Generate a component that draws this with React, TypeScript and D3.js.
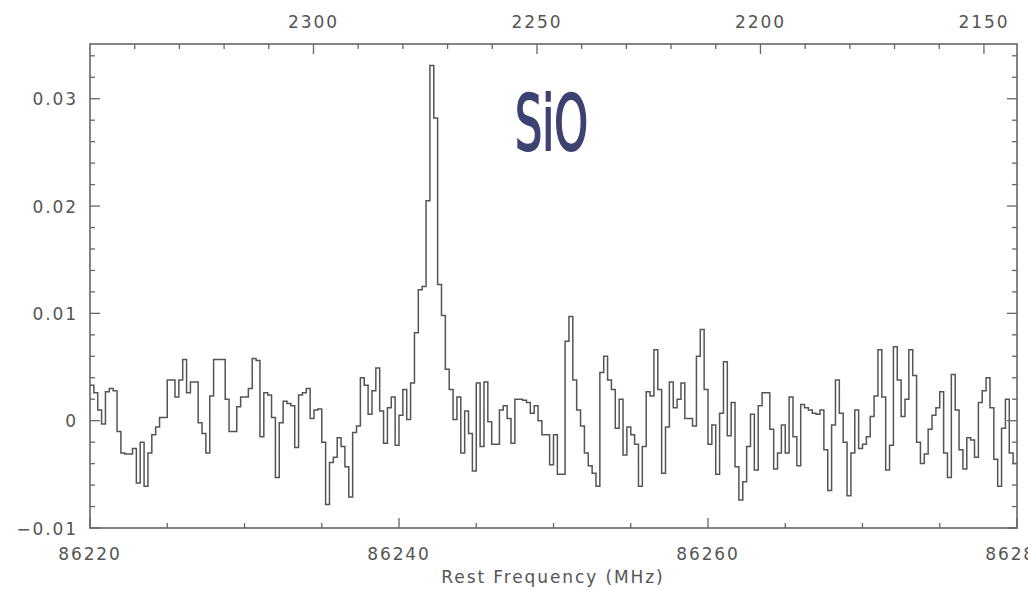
import React from 'react';
import * as d3 from 'd3';

const freqStart = 86220; // MHz
const channelWidth = 0.25; // MHz
// flux density in units of 0.001
const fluxMilli = [
  3.3, 2.6, 1.0, -0.3, 2.7, 3.0, 2.8, -1.0, -3.0, -3.1,
  -3.1, -2.6, -5.8, -2.0, -6.1, -3.0, -1.3, -0.6, 0.3, 0.3,
  3.8, 3.8, 2.2, 3.8, 5.7, 2.6, 3.6, 3.6, -0.2, -1.2,
  -3.0, 2.3, 5.7, 5.7, 5.7, 2.0, -1.0, -1.0, 1.3, 2.2,
  2.2, 3.0, 5.8, 5.6, -1.5, 2.6, 2.4, 0.3, -5.3, -0.2,
  1.8, 1.6, 1.4, -2.5, 2.4, 2.6, 3.0, 0.2, 1.0, 1.1,
  -2.0, -7.8, -3.9, -3.4, -1.6, -2.4, -4.3, -7.1, -1.1, -0.5,
  4.0, 3.3, 0.6, 2.8, 4.9, 0.9, -2.1, 1.2, 2.2, -2.3,
  0.5, 2.9, 0.1, 3.5, 8.2, 12.2, 12.5, 20.5, 33.1, 28.2,
  12.7, 9.8, 4.8, 2.9, 0.1, 2.2, -3.0, 0.9, -1.2, -4.7,
  3.5, -2.4, 3.6, -0.1, -2.2, -2.2, 1.0, 1.4, 0.2, -2.1,
  2.0, 2.0, 1.9, 1.7, 0.7, 1.4, 0.0, -1.3, -1.3, -4.1,
  -1.3, -5.0, -5.0, 7.4, 9.7, 3.8, 1.0, -0.5, -3.0, -4.2,
  -4.9, -6.1, 4.5, 6.0, 3.8, 2.9, -0.7, 2.0, -3.2, -0.6,
  -1.3, -2.2, -6.1, -2.4, 2.7, 2.3, 6.6, 2.9, -4.9, -0.6,
  3.6, 1.2, 2.0, 3.5, 0.2, 0.2, -0.5, 6.0, 8.5, 2.9,
  -2.2, -0.4, -5.0, 0.7, 5.5, -1.4, 1.7, -4.3, -7.4, -5.7,
  -2.4, 0.6, -4.6, 1.4, 2.6, 2.6, -0.8, -4.5, -3.0, -0.4,
  -3.0, 2.2, -1.5, -4.2, 1.5, 1.2, 1.0, 0.7, 0.6, 1.0,
  -2.7, -6.5, -0.4, 3.8, 0.7, -2.0, -7.0, -3.0, 1.0, -2.6,
  -2.2, -1.5, 0.4, 2.3, 6.6, 2.2, -4.6, -2.3, 6.9, 3.8,
  0.4, 2.0, 6.6, 4.2, -2.0, -4.0, -3.1, -0.8, 0.5, 1.2,
  2.7, -3.0, -5.3, 4.3, 1.0, -2.7, -4.5, -1.6, -1.8, -3.4,
  1.7, 2.8, 4.0, 1.2, -3.6, -6.1, -0.7, 2.0, -3.0, -4.0,
];

const freqMajorTicks = [86220, 86240, 86260, 86280];
const freqTickLabels = ['86220', '86240', '86260', '86280'];
const velMajorTicks = [2300, 2250, 2200, 2150];
const velTickLabels = ['2300', '2250', '2200', '2150'];
const yMajorTicks = [-10, 0, 10, 20, 30];
const yTickLabels = ['\u22120.01', '0', '0.01', '0.02', '0.03'];
const xAxisTitle = 'Rest Frequency (MHz)';
const lineLabel = 'SiO';

export default function App() {
  const W = 1028, H = 590;
  const L = 90, R = 1017, T = 44, B = 528;
  const x = d3.scaleLinear().domain([86220, 86280]).range([L, R]);
  const xv = d3.scaleLinear().domain([2350, 2142.6]).range([L, R]);
  const y = d3.scaleLinear().domain([-10, 35.1]).range([B, T]);

  const pts: [number, number][] = fluxMilli.map((v, i) => [freqStart + i * channelWidth, v]);
  pts.push([freqStart + fluxMilli.length * channelWidth, fluxMilli[fluxMilli.length - 1]]);
  const line = d3.line<[number, number]>()
    .x(d => x(d[0]))
    .y(d => y(d[1]))
    .curve(d3.curveStepAfter);

  const xMinor = d3.range(86225, 86280, 5).filter(v => v % 20 !== 0);
  const yMinor = d3.range(-8, 35, 2).filter(v => v % 10 !== 0);
  const vMinor = d3.range(2150, 2350, 10).filter(v => v % 50 !== 0);

  const axisColor = '#666';
  const textColor = '#555';
  const major = 10, minor = 5;
  const font = { fontFamily: 'DejaVu Sans, sans-serif', fontSize: 17, letterSpacing: 1.9, fill: textColor } as const;

  return (
    <svg width={W} height={H} style={{ position: 'absolute', left: 0, top: 0, background: '#fff' }}>
      <rect x={0} y={0} width={W} height={H} fill="#fff" />
      <path d={line(pts) || ''} fill="none" stroke="#555" strokeWidth={1.5} />
      <rect x={L} y={T} width={R - L} height={B - T} fill="none" stroke={axisColor} strokeWidth={1.6} />
      {freqMajorTicks.map(v => (
        <line key={'xb' + v} x1={x(v)} x2={x(v)} y1={B} y2={B - major} stroke={axisColor} strokeWidth={1.3} />
      ))}
      {xMinor.map(v => (
        <line key={'xm' + v} x1={x(v)} x2={x(v)} y1={B} y2={B - minor} stroke={axisColor} strokeWidth={1.3} />
      ))}
      {velMajorTicks.map(v => (
        <line key={'vt' + v} x1={xv(v)} x2={xv(v)} y1={T} y2={T + major} stroke={axisColor} strokeWidth={1.3} />
      ))}
      {vMinor.map(v => (
        <line key={'vm' + v} x1={xv(v)} x2={xv(v)} y1={T} y2={T + minor} stroke={axisColor} strokeWidth={1.3} />
      ))}
      {yMajorTicks.map(v => (
        <g key={'y' + v}>
          <line x1={L} x2={L + major} y1={y(v)} y2={y(v)} stroke={axisColor} strokeWidth={1.3} />
          <line x1={R} x2={R - major} y1={y(v)} y2={y(v)} stroke={axisColor} strokeWidth={1.3} />
        </g>
      ))}
      {yMinor.map(v => (
        <g key={'ym' + v}>
          <line x1={L} x2={L + minor} y1={y(v)} y2={y(v)} stroke={axisColor} strokeWidth={1.3} />
          <line x1={R} x2={R - minor} y1={y(v)} y2={y(v)} stroke={axisColor} strokeWidth={1.3} />
        </g>
      ))}
      {freqMajorTicks.map((v, i) => (
        <text key={'xl' + v} x={x(v)} y={560} textAnchor="middle" {...font}>{freqTickLabels[i]}</text>
      ))}
      {velMajorTicks.map((v, i) => (
        <text key={'vl' + v} x={xv(v)} y={28} textAnchor="middle" {...font}>{velTickLabels[i]}</text>
      ))}
      {yMajorTicks.map((v, i) => (
        <text key={'yl' + v} x={78} y={y(v) + 6.5} textAnchor="end" {...font}>{yTickLabels[i]}</text>
      ))}
      <text x={553} y={583} textAnchor="middle" {...font}>{xAxisTitle}</text>
      <text x={515} y={150} textLength={73} lengthAdjust="spacingAndGlyphs"
        style={{ fontFamily: '"Liberation Sans Narrow", "DejaVu Sans Condensed", "Liberation Sans", sans-serif', fontSize: 76, fontWeight: 'normal', fill: '#3d4270', stroke: '#3d4270', strokeWidth: 2 }}>
        {lineLabel}
      </text>
    </svg>
  );
}
